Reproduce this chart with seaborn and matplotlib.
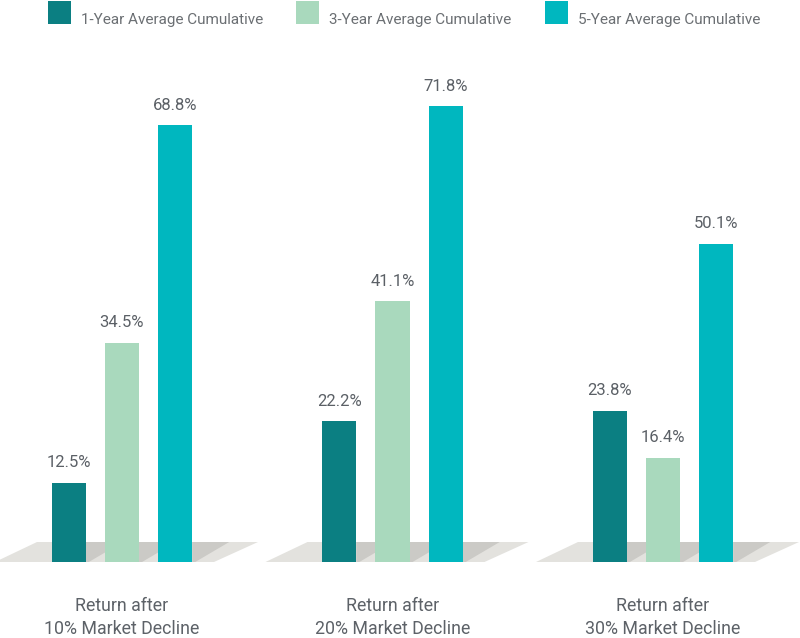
import numpy as np
import pandas as pd
import seaborn as sns
import matplotlib
import matplotlib.pyplot as plt
from matplotlib.patches import Polygon, Rectangle

categories = ["Return after\n10% Market Decline",
              "Return after\n20% Market Decline",
              "Return after\n30% Market Decline"]
series = ["1-Year Average Cumulative", "3-Year Average Cumulative", "5-Year Average Cumulative"]
one_year = [12.5, 22.2, 23.8]
three_year = [34.5, 41.1, 16.4]
five_year = [68.8, 71.8, 50.1]
colors = ["#0b7f82", "#a9d9bd", "#00b7bf"]

rows = []
for s, vals in zip(series, [one_year, three_year, five_year]):
    for c, v in zip(categories, vals):
        rows.append({"category": c, "series": s, "value": v})
df = pd.DataFrame(rows)

sns.set_theme(style="white")
plt.rcParams['font.family'] = ['Roboto', 'DejaVu Sans']

W, H = 800, 638
fig = plt.figure(figsize=(8, 6.38), dpi=100)
ax = fig.add_axes([0, 1 - 562 / H, 1, (562 - 40) / H])

sns.barplot(data=df, x="category", y="value", hue="series", order=categories,
            hue_order=series, palette=colors, width=0.59, gap=0.36, saturation=1,
            linewidth=0, errorbar=None, legend=False, ax=ax)

px = 1 / 270.5          # one pixel in x data units
py = 1 / 6.35           # one pixel in y data units
ax.set_xlim(-122 * px, (800 - 122) * px)
ax.set_ylim(0, (562 - 40) * py)

floor_top = 20 * py
centers = list(ax.get_xticks())
for c in centers:
    floor = Polygon([(c - 127 * px, 0), (c + 92 * px, 0),
                     (c + 136 * px, floor_top), (c - 85 * px, floor_top)],
                    closed=True, facecolor="#e3e2de", edgecolor="none", zorder=0.5)
    ax.add_patch(floor)

for p in ax.patches[:]:
    if isinstance(p, Rectangle):
        p.set_zorder(2)
        br = p.get_x() + p.get_width()
        sh = Polygon([(br, 0), (br, floor_top), (br + 37 * px, floor_top), (br + 3 * px, 0)],
                     closed=True, facecolor="#cbcac6", edgecolor="none", zorder=0.6)
        ax.add_patch(sh)

for cont in ax.containers:
    ax.bar_label(cont, fmt="%.1f%%", padding=9, fontsize=12, color="#5b6066")

for s in ax.spines.values():
    s.set_visible(False)
ax.set_yticks([])
ax.set_xlabel("")
ax.set_ylabel("")
ax.set_xticks(centers, labels=categories, linespacing=1.4)
ax.tick_params(axis="x", length=0, pad=25, labelsize=12.8, labelcolor="#5d6268")

# legend
sq_x = [48, 296, 545]
txt_x = [81, 329, 578]
for i, s in enumerate(series):
    fig.patches.append(Rectangle((sq_x[i] / W, 1 - 24 / H), 23 / W, 23 / H,
                                 transform=fig.transFigure, facecolor=colors[i],
                                 edgecolor="none"))
    fig.text(txt_x[i] / W, 1 - 24 / H, s, fontsize=11, color="#6b6f73",
             ha="left", va="baseline")

fig.savefig("out.png", dpi=100)
